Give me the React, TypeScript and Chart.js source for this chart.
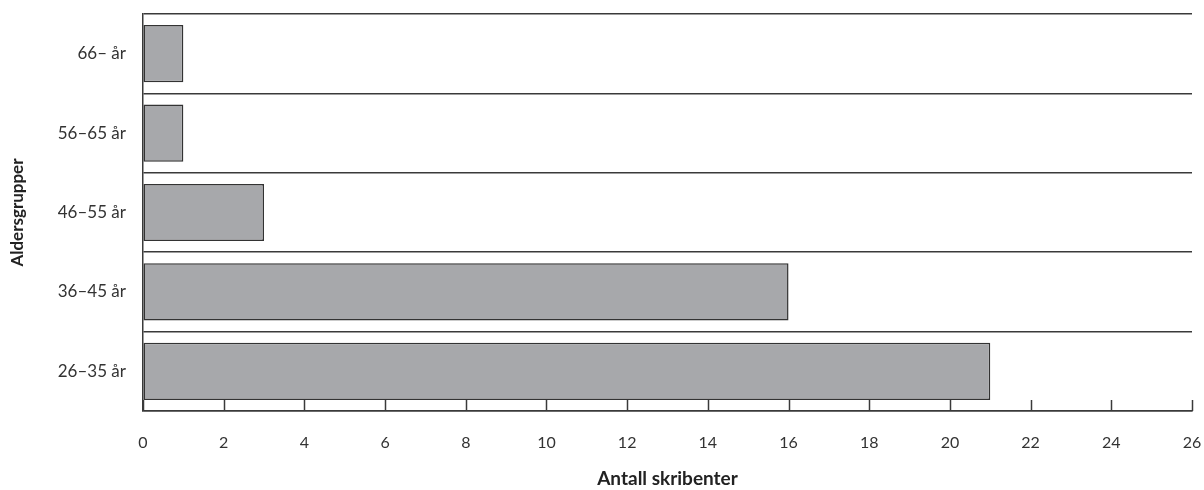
import React, { useEffect, useRef } from "react";
import { Chart, registerables } from "chart.js";

Chart.register(...registerables);

const categories = ["66– år", "56–65 år", "46–55 år", "36–45 år", "26–35 år"];
const values = [1, 1, 3, 16, 21];
const xMin = 0;
const xMax = 26;
const xStep = 2;
const xTitle = "Antall skribenter";
const yTitle = "Aldersgrupper";

const FONT = "Lato, 'Open Sans', sans-serif";
const LINE = "#3a3a3a";

const innerTicks = {
  id: "innerTicks",
  afterDatasetsDraw(chart: any) {
    const x = chart.scales.x;
    const ctx = chart.ctx;
    const bottom = chart.chartArea.bottom;
    ctx.save();
    ctx.strokeStyle = LINE;
    ctx.lineWidth = 1.5;
    for (const t of x.ticks) {
      const px = Math.round(x.getPixelForValue(t.value)) + 0.5;
      ctx.beginPath();
      ctx.moveTo(px, bottom);
      ctx.lineTo(px, bottom - 11);
      ctx.stroke();
    }
    ctx.restore();
  },
};

export default function App() {
  const ref = useRef<HTMLCanvasElement | null>(null);
  useEffect(() => {
    if (!ref.current) return;
    const chart = new Chart(ref.current, {
      type: "bar",
      data: {
        labels: categories,
        datasets: [
          {
            data: values,
            backgroundColor: "#a7a8ab",
            borderColor: "#333333",
            borderWidth: 1.5,
            borderSkipped: false,
            barPercentage: 0.72,
            categoryPercentage: 1,
          },
        ],
      },
      options: {
        indexAxis: "y",
        animation: false,
        responsive: true,
        maintainAspectRatio: false,
        layout: { padding: { left: 0, top: 14, right: 12, bottom: 0 } },
        plugins: { legend: { display: false }, tooltip: { enabled: false } },
        scales: {
          x: {
            min: xMin,
            max: xMax,
            ticks: {
              stepSize: xStep,
              padding: 22,
              color: "#333",
              font: { family: FONT, size: 16 },
              maxRotation: 0,
            },
            grid: { drawOnChartArea: false, drawTicks: false },
            border: { display: true, color: LINE, width: 1.5 },
            title: {
              display: true,
              text: xTitle,
              color: "#222",
              font: { family: FONT, size: 19, weight: "bold" },
              padding: { top: 0, bottom: 0 },
            },
            afterFit(scale: any) {
              scale.height = 79;
              scale.paddingLeft = 0;
              scale.paddingRight = 0;
              scale.paddingTop = 0;
              scale.paddingBottom = 0;
            },
          },
          y: {
            ticks: {
              padding: 17,
              color: "#333",
              font: { family: FONT, size: 17 },
            },
            grid: {
              offset: true,
              drawTicks: false,
              color: LINE,
              lineWidth: 1.5,
            },
            border: { display: true, color: LINE, width: 1.5 },
            title: {
              display: true,
              text: yTitle,
              color: "#222",
              font: { family: FONT, size: 17, weight: "bold" },
              padding: { top: 7, bottom: 0 },
            },
            afterFit(scale: any) {
              scale.width = 143;
              scale.paddingLeft = 0;
              scale.paddingRight = 0;
              scale.paddingTop = 0;
              scale.paddingBottom = 0;
            },
          },
        },
      },
      plugins: [innerTicks],
    } as any);
    return () => chart.destroy();
  }, []);
  return (
    <div style={{ position: "fixed", left: 0, top: 0, width: 1204, height: 490, background: "#fff" }}>
      <canvas ref={ref} />
    </div>
  );
}
